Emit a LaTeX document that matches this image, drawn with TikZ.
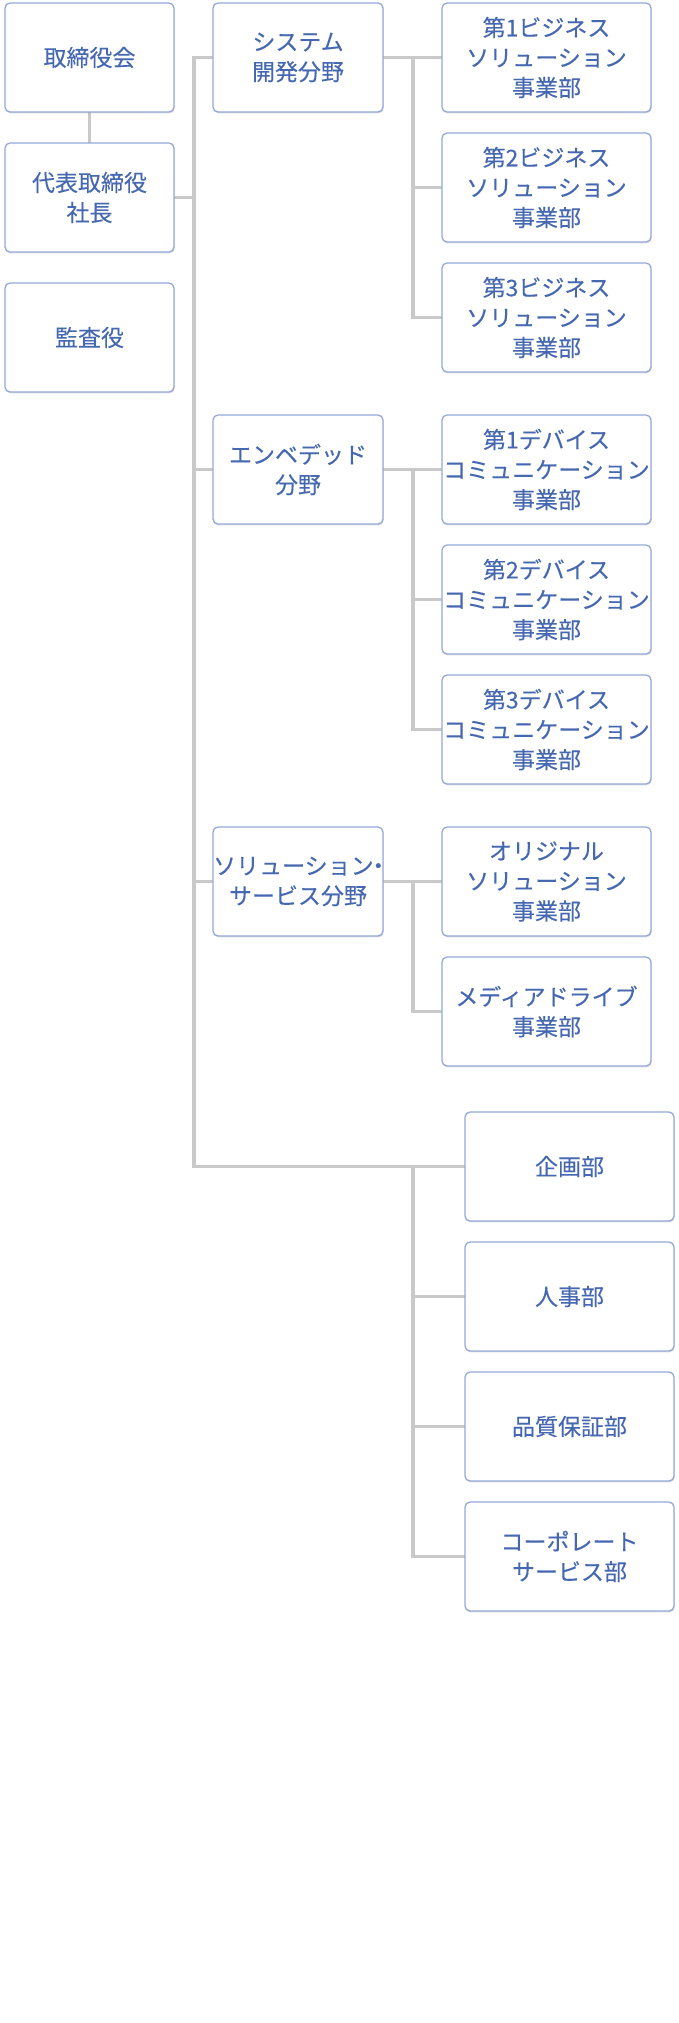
\documentclass[tikz,border=0pt]{standalone}
\usepackage{fontspec}
\newfontfamily\jp[BoldFont={Noto Sans CJK JP}, BoldFeatures={FakeBold=0.2}]{Noto Sans CJK JP}
\usetikzlibrary{shadows,backgrounds}
\definecolor{bcol}{HTML}{95A8D9}
\definecolor{tcol}{HTML}{4668B0}
\definecolor{lcol}{HTML}{C9C9C9}
\begin{document}
\begin{tikzpicture}[x=1pt,y=-1pt,
  orgbox/.style={draw=bcol, line width=1.3pt, rounded corners=5pt, fill=white,
    text=tcol, font={\jp\bfseries\fontsize{23}{30}\selectfont}, align=center,
    inner sep=0pt, outer sep=0pt, minimum height=109pt,
    drop shadow={shadow xshift=0.6pt, shadow yshift=-1.4pt, opacity=0.22, fill=black!60}},
  wa/.style={orgbox, minimum width=169pt},
  wb/.style={orgbox, minimum width=170pt},
  wc/.style={orgbox, minimum width=209pt},
  conn/.style={draw=lcol, line width=3.5pt}]
\useasboundingbox (0,0) rectangle (679,2023);
% left column
\node[wa] (a1) at (89.5,57.5) {取締役会};
\node[wa] (a2) at (89.5,197.5) {代表取締役\\社長};
\node[wa] (a3) at (89.5,337.5) {監査役};
% fields
\node[wb] (b1) at (298,57.5) {システム\\開発分野};
\node[wb] (b2) at (298,469.5) {エンベデッド\\分野};
\node[wb] (b3) at (298,881.5) {ソリューション\kern-0.3em・\kern-0.3em\\サービス分野};
% divisions
\node[wc] (c1) at (546.5,57.5) {第1ビジネス\\ソリューション\\事業部};
\node[wc] (c2) at (546.5,187.5) {第2ビジネス\\ソリューション\\事業部};
\node[wc] (c3) at (546.5,317.5) {第3ビジネス\\ソリューション\\事業部};
\node[wc] (c4) at (546.5,469.5) {第1デバイス\\コミュニケーション\\事業部};
\node[wc] (c5) at (546.5,599.5) {第2デバイス\\コミュニケーション\\事業部};
\node[wc] (c6) at (546.5,729.5) {第3デバイス\\コミュニケーション\\事業部};
\node[wc] (c7) at (546.5,881.5) {オリジナル\\ソリューション\\事業部};
\node[wc] (c8) at (546.5,1011.5) {メディアドライブ\\事業部};
% staff
\node[wc] (d1) at (569.5,1166.5) {企画部};
\node[wc] (d2) at (569.5,1296.5) {人事部};
\node[wc] (d3) at (569.5,1426.5) {品質保証部};
\node[wc] (d4) at (569.5,1556.5) {コーポレート\\サービス部};
% trunk coordinates
\coordinate (t1) at (194,57.5);
\coordinate (t4) at (194,1166.5);
\coordinate (s1) at (413,57.5);
\coordinate (s3) at (413,317.5);
\coordinate (s4) at (413,469.5);
\coordinate (s6) at (413,729.5);
\coordinate (s7) at (413,881.5);
\coordinate (s8) at (413,1011.5);
\coordinate (u1) at (413,1166.5);
\coordinate (u4) at (413,1556.5);
\begin{scope}[on background layer]
\fill[white] (0,0) rectangle (679,2023);
\draw[conn] (a1.south) -- (a2.north);
\draw[conn] (b1.west) -- (t1) -- (t4) -- (d1.west);
\draw[conn] (a2.east) -- (a2.east -| t1);
\draw[conn] (b2.west) -- (b2.west -| t1);
\draw[conn] (b3.west) -- (b3.west -| t1);
\draw[conn] (b1.east) -- (c1.west);
\draw[conn] (s1) -- (s3) -- (c3.west);
\draw[conn] (c2.west) -- (c2.west -| s1);
\draw[conn] (b2.east) -- (c4.west);
\draw[conn] (s4) -- (s6) -- (c6.west);
\draw[conn] (c5.west) -- (c5.west -| s4);
\draw[conn] (b3.east) -- (c7.west);
\draw[conn] (s7) -- (s8) -- (c8.west);
\draw[conn] (u1) -- (u4) -- (d4.west);
\draw[conn] (d2.west) -- (d2.west -| u1);
\draw[conn] (d3.west) -- (d3.west -| u1);
\end{scope}
\end{tikzpicture}
\end{document}
